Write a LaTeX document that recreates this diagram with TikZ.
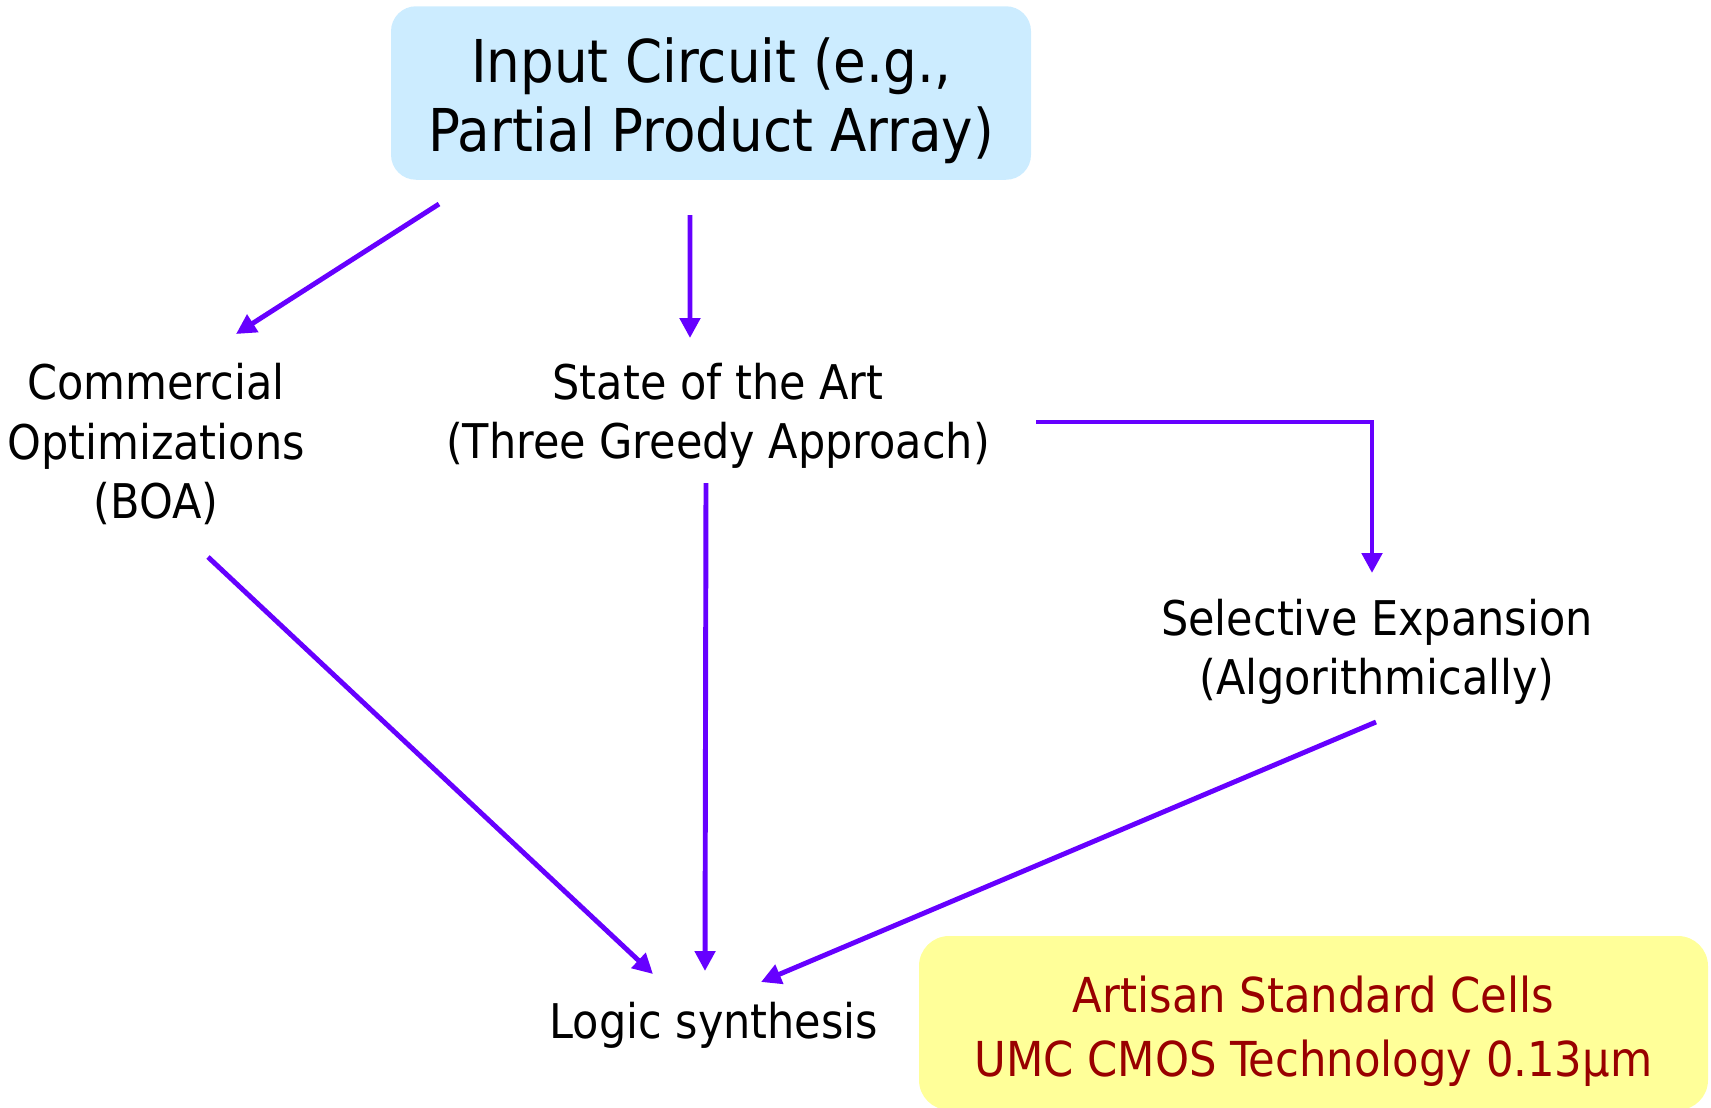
\documentclass[tikz,border=0pt]{standalone}
\usepackage{fontspec}
\setmainfont{DejaVu Sans Condensed}
\usetikzlibrary{positioning, arrows.meta, calc}

\definecolor{arrowviolet}{HTML}{6600FF}
\definecolor{inputblue}{HTML}{CCECFF}
\definecolor{cellyellow}{HTML}{FFFF99}
\definecolor{celltext}{HTML}{990000}

\begin{document}
\begin{tikzpicture}[
    flow/.style={draw=arrowviolet, line width=1.4pt, -{Triangle[length=2mm, width=2mm]}},
    label/.style={align=center, font=\fontsize{13.6}{16.8}\selectfont},
    inputbox/.style={fill=inputblue, rounded corners=0.25cm, align=center,
        minimum width=6.4cm, minimum height=1.735cm, font=\fontsize{16.8}{19.7}\selectfont},
    cellbox/.style={fill=cellyellow, rounded corners=0.3cm, align=center, text=celltext,
        minimum width=7.89cm, minimum height=1.74cm, font=\fontsize{13.7}{18}\selectfont}
]
    \useasboundingbox (0,0) rectangle (17.11,-11.07);

    \node[inputbox] (input) at (7.11,-0.93) {\rule{0pt}{0.6cm}Input Circuit (e.g.,\\Partial Product Array)};
    \node[label] (comm) at (1.56,-4.44) {Commercial\\Optimizations\\(BOA)};
    \node[label] (soa) at (7.18,-4.16) {State of the Art\\(Three Greedy Approach)};
    \node[label] (sel) at (13.77,-6.52) {Selective Expansion\\(Algorithmically)};
    \node[label] (logic) at (7.14,-10.25) {Logic synthesis};
    \node[cellbox] (cells) at (13.135,-10.23) {\rule{0pt}{0.53cm}Artisan Standard Cells\\UMC CMOS Technology 0.13µm};

    \draw[flow] ([shift={(-2.72,-1.11)}]input.center) -- ([shift={(0.80,1.10)}]comm.center);
    \draw[flow] ([shift={(-0.21,-1.22)}]input.center) -- ([shift={(-0.28,0.78)}]soa.center);
    \draw[flow] ([shift={(3.18,-0.06)}]soa.center) -| ([shift={(-0.05,0.79)}]sel.center);
    \draw[flow] ([shift={(0.52,-1.13)}]comm.center) -- ([shift={(-0.61,0.51)}]logic.center);
    \draw[flow] ([shift={(-0.12,-0.67)}]soa.center) -- ([shift={(-0.09,0.54)}]logic.center);
    \draw[flow] ([shift={(-0.01,-0.70)}]sel.center) -- ([shift={(0.47,0.43)}]logic.center);
\end{tikzpicture}
\end{document}
